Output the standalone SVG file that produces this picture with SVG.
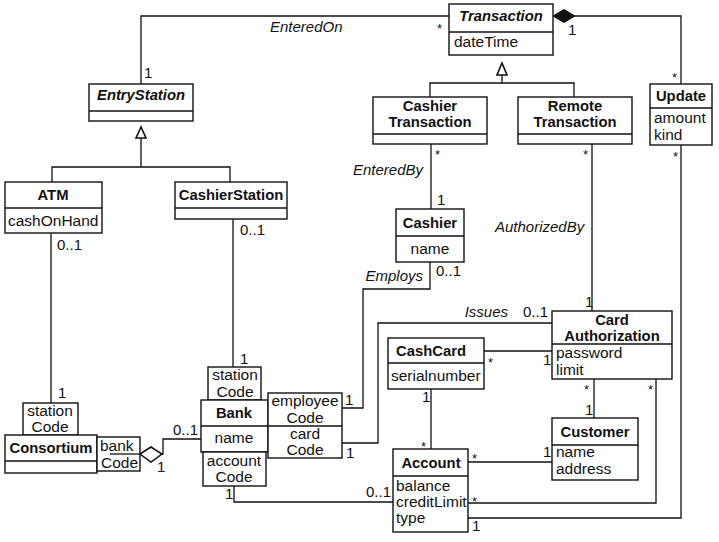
<svg xmlns="http://www.w3.org/2000/svg" width="719" height="542" viewBox="0 0 719 542">
<style>
.box{fill:#fff;stroke:#111;stroke-width:1.4}
.ln{fill:none;stroke:#111;stroke-width:1.3}
text{font-family:"Liberation Sans",Arial,sans-serif;fill:#111}
.nm{font-size:14.8px;font-weight:bold;text-anchor:middle}
.ab{font-size:14.8px;font-weight:bold;font-style:italic;text-anchor:middle}
.at{font-size:15.5px}
.atc{font-size:15.5px;text-anchor:middle}
.rl{font-size:15px;font-style:italic}
.m{font-size:15px}
.s{font-size:13px}
</style>
<rect width="719" height="542" fill="#fff"/>
<g id="connectors">
<path class="ln" d="M141,84 V16 H449"/>
<path class="ln" d="M575,16 H681 V84"/>
<polygon points="553,16 564,9.5 575,16 564,22.5" fill="#111" stroke="#111" stroke-width="1"/>
<path class="ln" d="M502,75 V83 M430,97 V83 H574 V97"/>
<polygon points="502,63 497,75 507,75" fill="#fff" stroke="#111" stroke-width="1.6"/>
<path class="ln" d="M141,138 V167 M52,182 V167 H230 V182"/>
<polygon points="141,127 136,138 146,138" fill="#fff" stroke="#111" stroke-width="1.6"/>
<path class="ln" d="M431,144 V209"/>
<path class="ln" d="M592,144 V311"/>
<path class="ln" d="M681,145 V518 H468"/>
<path class="ln" d="M430,262 V289 H363 V408 H342"/>
<path class="ln" d="M552,323 H378 V443 H342"/>
<path class="ln" d="M51,233 V403"/>
<path class="ln" d="M233,219 V367"/>
<path class="ln" d="M162,454 H163 V439 H201 M110,454 H140"/>
<polygon points="140,454 151,447 162,454 151,462" fill="#fff" stroke="#111" stroke-width="1.5"/>
<path class="ln" d="M234,486 V502 H393"/>
<path class="ln" d="M484,351 H552"/>
<path class="ln" d="M431,389 V449"/>
<path class="ln" d="M594,379 V418"/>
<path class="ln" d="M468,462 H552"/>
<path class="ln" d="M656,379 V503 H468"/>
</g>
<g id="labels">
<text class="rl" x="270" y="32">EnteredOn</text>
<text class="s" x="437" y="33">*</text>
<text class="m" x="144" y="78">1</text>
<text class="m" x="568" y="35">1</text>
<text class="s" x="672" y="82">*</text>
<text class="s" x="435" y="159">*</text>
<text class="s" x="583" y="159">*</text>
<text class="s" x="673" y="161">*</text>
<text class="rl" x="423" y="175" text-anchor="end">EnteredBy</text>
<text class="m" x="437" y="205">1</text>
<text class="rl" x="495" y="232">AuthorizedBy</text>
<text class="rl" x="423" y="281" text-anchor="end">Employs</text>
<text class="m" x="436" y="276">0..1</text>
<text class="rl" x="508" y="317" text-anchor="end">Issues</text>
<text class="m" x="523" y="317">0..1</text>
<text class="m" x="585" y="307">1</text>
<text class="s" x="488" y="367">*</text>
<text class="m" x="543" y="365">1</text>
<text class="m" x="422" y="402">1</text>
<text class="s" x="421" y="451">*</text>
<text class="s" x="584" y="394">*</text>
<text class="m" x="585" y="415">1</text>
<text class="s" x="648" y="394">*</text>
<text class="s" x="472" y="463">*</text>
<text class="m" x="543" y="457">1</text>
<text class="s" x="472" y="506">*</text>
<text class="m" x="472" y="531">1</text>
<text class="m" x="366" y="497">0..1</text>
<text class="m" x="225" y="499">1</text>
<text class="m" x="240" y="364">1</text>
<text class="m" x="345" y="405">1</text>
<text class="m" x="346" y="458">1</text>
<text class="m" x="57" y="250">0..1</text>
<text class="m" x="240" y="235">0..1</text>
<text class="m" x="58" y="398">1</text>
<text class="m" x="173" y="435">0..1</text>
<text class="m" x="157" y="472">1</text>
</g>
<g id="Transaction">
<rect class="box" x="449" y="4" width="104" height="51"/>
<line class="ln" x1="449" y1="32" x2="553" y2="32"/>
<text class="ab" x="501" y="21">Transaction</text>
<text class="at" x="454" y="47">dateTime</text>
</g>
<g id="EntryStation">
<rect class="box" x="89" y="84" width="104" height="37"/>
<line class="ln" x1="89" y1="111" x2="193" y2="111"/>
<text class="ab" x="141" y="100">EntryStation</text>
</g>
<g id="ATM">
<rect class="box" x="5" y="182" width="97" height="51"/>
<line class="ln" x1="5" y1="208" x2="102" y2="208"/>
<text class="nm" x="53" y="200">ATM</text>
<text class="at" x="8" y="226">cashOnHand</text>
</g>
<g id="CashierStation">
<rect class="box" x="175" y="182" width="112" height="37"/>
<line class="ln" x1="175" y1="208" x2="287" y2="208"/>
<text class="nm" x="231" y="200">CashierStation</text>
</g>
<g id="CashierTransaction">
<rect class="box" x="373" y="97" width="114" height="47"/>
<line class="ln" x1="373" y1="134" x2="487" y2="134"/>
<text class="nm" x="430" y="111">Cashier</text>
<text class="nm" x="430" y="127">Transaction</text>
</g>
<g id="RemoteTransaction">
<rect class="box" x="518" y="97" width="114" height="47"/>
<line class="ln" x1="518" y1="134" x2="632" y2="134"/>
<text class="nm" x="575" y="111">Remote</text>
<text class="nm" x="575" y="127">Transaction</text>
</g>
<g id="Update">
<rect class="box" x="650" y="84" width="62" height="61"/>
<line class="ln" x1="650" y1="108" x2="712" y2="108"/>
<text class="nm" x="681" y="101">Update</text>
<text class="at" x="654" y="123">amount</text>
<text class="at" x="654" y="140">kind</text>
</g>
<g id="Cashier">
<rect class="box" x="396" y="209" width="68" height="53"/>
<line class="ln" x1="396" y1="236" x2="464" y2="236"/>
<text class="nm" x="430" y="228">Cashier</text>
<text class="atc" x="430" y="254">name</text>
</g>
<g id="CardAuthorization">
<rect class="box" x="552" y="311" width="120" height="68"/>
<line class="ln" x1="552" y1="344" x2="672" y2="344"/>
<text class="nm" x="612" y="325">Card</text>
<text class="nm" x="612" y="341">Authorization</text>
<text class="at" x="556" y="358">password</text>
<text class="at" x="556" y="375">limit</text>
</g>
<g id="CashCard">
<rect class="box" x="388" y="338" width="96" height="51"/>
<line class="ln" x1="388" y1="363" x2="484" y2="363"/>
<text class="nm" x="431" y="356">CashCard</text>
<text class="at" x="391" y="381">serialnumber</text>
</g>
<g id="Customer">
<rect class="box" x="552" y="418" width="86" height="62"/>
<line class="ln" x1="552" y1="445" x2="638" y2="445"/>
<text class="nm" x="595" y="437">Customer</text>
<text class="at" x="556" y="457">name</text>
<text class="at" x="556" y="474">address</text>
</g>
<g id="Account">
<rect class="box" x="393" y="449" width="75" height="83"/>
<line class="ln" x1="393" y1="476" x2="468" y2="476"/>
<text class="nm" x="431" y="468">Account</text>
<text class="at" x="396" y="491">balance</text>
<text class="at" x="396" y="507">creditLimit</text>
<text class="at" x="396" y="523">type</text>
</g>
<g id="Bank">
<rect class="box" x="208" y="367" width="53" height="33"/>
<text class="atc" x="235" y="380">station</text>
<text class="atc" x="235" y="397">Code</text>
<rect class="box" x="201" y="400" width="67" height="52"/>
<line class="ln" x1="201" y1="426" x2="268" y2="426"/>
<text class="nm" x="234" y="418">Bank</text>
<text class="atc" x="234" y="443">name</text>
<rect class="box" x="268" y="393" width="74" height="65"/>
<line class="ln" x1="268" y1="426" x2="342" y2="426"/>
<text class="atc" x="305" y="406">employee</text>
<text class="atc" x="305" y="423">Code</text>
<text class="atc" x="305" y="439">card</text>
<text class="atc" x="305" y="455">Code</text>
<rect class="box" x="203" y="452" width="63" height="34"/>
<text class="atc" x="234" y="466">account</text>
<text class="atc" x="234" y="482">Code</text>
</g>
<g id="Consortium">
<rect class="box" x="23" y="403" width="55" height="32"/>
<text class="atc" x="50" y="416">station</text>
<text class="atc" x="50" y="432">Code</text>
<rect class="box" x="5" y="435" width="92" height="38"/>
<line class="ln" x1="5" y1="461" x2="97" y2="461"/>
<text class="nm" x="51" y="453">Consortium</text>
<rect class="box" x="97" y="437" width="43" height="34"/>
<text class="at" x="100" y="451">bank</text>
<text class="at" x="101" y="468">Code</text>
<line class="ln" x1="110" y1="454" x2="140" y2="454"/>
</g>
</svg>
